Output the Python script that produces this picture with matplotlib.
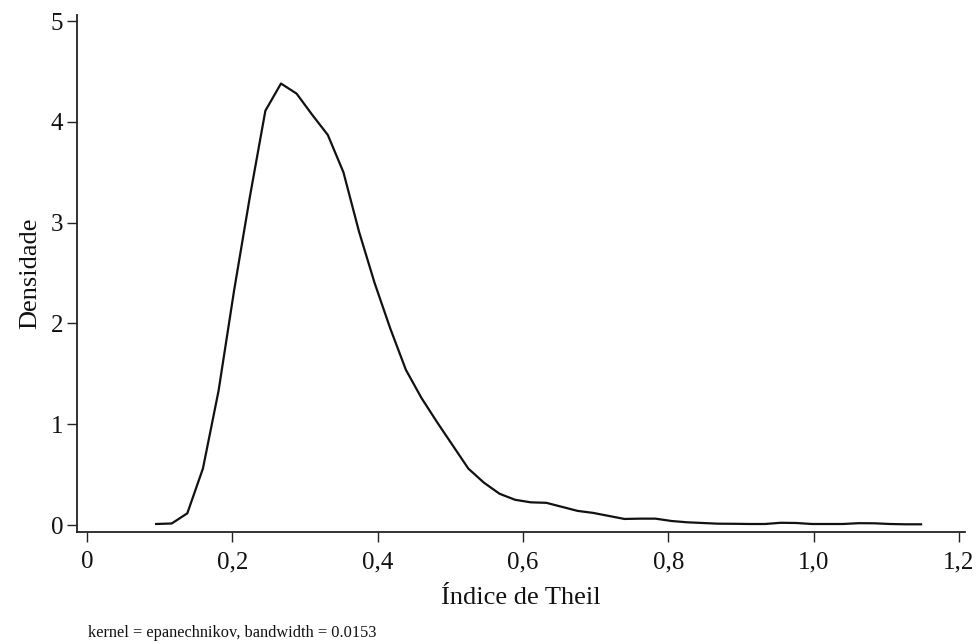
import numpy as np
import matplotlib
matplotlib.use("Agg")
import matplotlib.pyplot as plt

# Kernel density estimate of the Theil index (50 evaluation points)
x_start = 0.095
x_end = 1.148
density = [0.010, 0.015, 0.116, 0.56, 1.33, 2.33, 3.25, 4.11, 4.38, 4.28,
           4.07, 3.87, 3.50, 2.91, 2.40, 1.95, 1.54, 1.26, 1.02, 0.79,
           0.56, 0.42, 0.31, 0.25, 0.225, 0.22, 0.18, 0.14, 0.12, 0.09,
           0.06, 0.063, 0.063, 0.04, 0.027, 0.02, 0.013, 0.012, 0.010, 0.010,
           0.022, 0.020, 0.010, 0.010, 0.010, 0.018, 0.017, 0.010, 0.007, 0.007]
xs = np.linspace(x_start, x_end, len(density))

x_ticks = [0, 0.2, 0.4, 0.6, 0.8, 1.0, 1.2]
x_tick_labels = ["0", "0,2", "0,4", "0,6", "0,8", "1,0", "1,2"]
y_ticks = [0, 1, 2, 3, 4, 5]
y_tick_labels = ["0", "1", "2", "3", "4", "5"]

plt.rcParams['font.family'] = ['Liberation Serif', 'DejaVu Serif']

fig = plt.figure(figsize=(9.79, 6.44), dpi=100)
ax = fig.add_axes([0.0787, 0.1739, 0.9857 - 0.0787, 0.9767 - 0.1739])

ax.plot(xs, density, color="#111111", lw=1.6)

ax.set_xlim(-0.0138, 1.2085)
ax.set_ylim(-0.0695, 5.06)
ax.set_xticks(x_ticks)
ax.set_xticklabels(x_tick_labels)
ax.set_yticks(y_ticks)
ax.set_yticklabels(y_tick_labels)

for s in ["top", "right"]:
    ax.spines[s].set_visible(False)
for s in ["left", "bottom"]:
    ax.spines[s].set_linewidth(1.3)
    ax.spines[s].set_color("#222222")

ax.tick_params(axis="both", direction="out", length=7, width=1.0, colors="#222222",
               labelsize=18, labelcolor="#111111")
ax.tick_params(axis="x", pad=7)
ax.tick_params(axis="y", pad=3)

ax.set_xlabel("Índice de Theil", fontsize=19, color="#111111", labelpad=10)
ax.set_ylabel("Densidade", fontsize=19, color="#111111", labelpad=7)

fig.text(88 / 979, 1 - 637 / 644, "kernel = epanechnikov, bandwidth = 0.0153",
         fontsize=11.8, color="#111111", ha="left", va="baseline")

fig.savefig("out.png", dpi=100, facecolor="white")
